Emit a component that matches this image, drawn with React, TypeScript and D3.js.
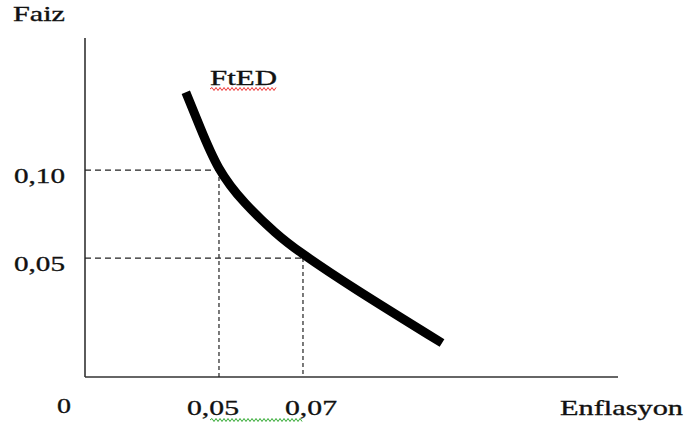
import * as d3 from 'd3'

const W = 684
const H = 427

// inflation (x) and interest (y)
const curveInflation = [0.0421, 0.0455, 0.05, 0.0562, 0.0633, 0.07, 0.0829, 0.1031]
const curveInterest = [0.1443, 0.1244, 0.1011, 0.0813, 0.0648, 0.0523, 0.0318, 0.0017]

// guide points (inflation, interest)
const guideInflation = [0.05, 0.07]
const guideInterest = [0.1, 0.05]

const yTickValues = [0.1, 0.05]
const yTickLabels = ['0,10', '0,05']
const xTickValues = [0.05, 0.07]
const xTickLabels = ['0,05', '0,07']

const X_TITLE = 'Enflasyon'
const Y_TITLE = 'Faiz'
const CURVE_LABEL = 'FtED'

const FONT = '"Liberation Serif", "Times New Roman", serif'

function wavy(x0: number, x1: number, y: number, step = 2, amp = 1.5) {
  let d = `M${x0},${y}`
  let up = true
  for (let x = x0 + step; x <= x1; x += step) {
    d += `L${x},${y + (up ? -amp : amp)}`
    up = !up
  }
  return d
}

export default function App() {
  const x = d3.scaleLinear().domain([0.0181, 0.145]).range([85, 618])
  const y = d3.scaleLinear().domain([-0.0176, 0.1751]).range([377, 38])

  const pts: [number, number][] = curveInflation.map((v, i) => [x(v), y(curveInterest[i])])
  const line = d3.line().curve(d3.curveNatural)(pts) ?? ''

  const [x0, x1] = x.range()
  const [yb, yt] = y.range()

  // per-label horizontal placement of x tick labels (start x relative to guide)
  const xLabelDx = [-32, -18]

  return (
    <svg
      width={W}
      height={H}
      style={{ position: 'absolute', left: 0, top: 0, display: 'block', background: '#fff' }}
    >
      <rect width={W} height={H} fill="#fff" />

      {/* axes */}
      <line x1={x0} x2={x0} y1={yt} y2={yb} stroke="#333" strokeWidth={1.6} />
      <line x1={x0} x2={x1} y1={yb} y2={yb} stroke="#333" strokeWidth={1.6} />

      {/* dashed guides */}
      {guideInflation.map((gx, i) => (
        <g key={i}>
          <line
            x1={x0}
            x2={x(gx)}
            y1={y(guideInterest[i])}
            y2={y(guideInterest[i])}
            stroke="#222"
            strokeWidth={1.2}
            strokeDasharray="6,4"
          />
          <line
            x1={x(gx)}
            x2={x(gx)}
            y1={y(guideInterest[i])}
            y2={yb}
            stroke="#222"
            strokeWidth={1.2}
            strokeDasharray="4,3"
          />
        </g>
      ))}

      {/* curve */}
      <path d={line} fill="none" stroke="#000" strokeWidth={9} strokeLinecap="butt" />

      <g fontFamily={FONT} fontSize={22} fill="#111" stroke="#111" strokeWidth={0.35}>
        <text x={13} y={21} textLength={52} lengthAdjust="spacingAndGlyphs">
          {Y_TITLE}
        </text>
        <text x={210} y={85} textLength={67} lengthAdjust="spacingAndGlyphs">
          {CURVE_LABEL}
        </text>
        {yTickValues.map((v, i) => (
          <text key={v} x={14} y={y(v) + 13} textLength={51} lengthAdjust="spacingAndGlyphs">
            {yTickLabels[i]}
          </text>
        ))}
        <text x={57} y={413} textLength={14} lengthAdjust="spacingAndGlyphs">
          0
        </text>
        {xTickValues.map((v, i) => (
          <text
            key={v}
            x={x(v) + xLabelDx[i]}
            y={415}
            textLength={52}
            lengthAdjust="spacingAndGlyphs"
          >
            {xTickLabels[i]}
          </text>
        ))}
        <text x={560} y={415} textLength={123} lengthAdjust="spacingAndGlyphs">
          {X_TITLE}
        </text>
      </g>

      {/* spell-check squiggles */}
      <path d={wavy(210, 277, 89)} fill="none" stroke="#e33" strokeWidth={1} />
      <path d={wavy(210, 302, 420)} fill="none" stroke="#3a3" strokeWidth={1} />
    </svg>
  )
}
